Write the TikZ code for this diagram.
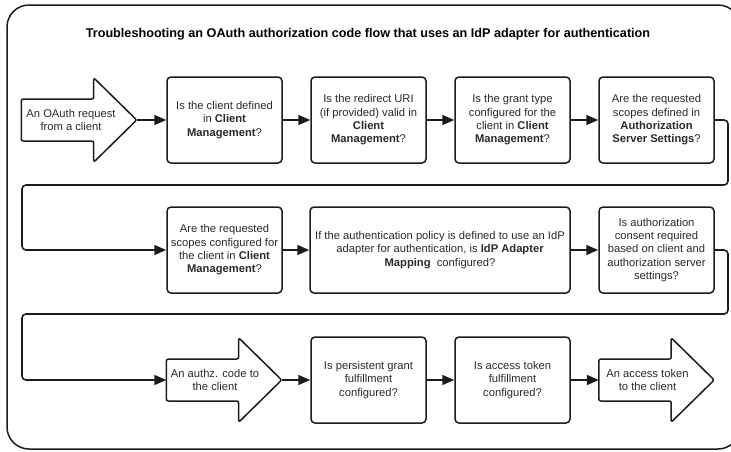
\documentclass[tikz,border=0pt]{standalone}
\usepackage{fontspec}
\setmainfont{Liberation Sans}
\usetikzlibrary{arrows.meta,calc}
\definecolor{linec}{HTML}{1C1C1C}
\definecolor{txtc}{HTML}{2A2A2A}
\begin{document}
\begin{tikzpicture}[x=1pt,y=-1pt,
  box/.style={draw=linec, line width=1.5pt, rounded corners=4pt, minimum width=115pt, minimum height=86pt,
    align=center, text=txtc, inner sep=2pt, font=\fontsize{11.2}{13.3}\selectfont},
  widebox/.style={box, minimum width=260pt},
  arrowarea/.style={minimum width=115pt, minimum height=84pt, inner sep=0pt},
  arrowtext/.style={align=center, text=txtc, inner sep=0pt, font=\fontsize{11.2}{12.5}\selectfont},
  arrowshape/.style={draw=linec, line width=1.5pt, rounded corners=2pt, line join=round},
  conn/.style={draw=linec, line width=1.6pt, rounded corners=4pt, -{Triangle[length=12pt,width=10pt]}},
  frame/.style={draw=linec, line width=1.5pt, rounded corners=22pt}
]
\useasboundingbox (0,0) rectangle (731,451);
\fill[white] (0,0) rectangle (731,451);
\draw[frame] (7,5) rectangle (740,449);

\node[text=black, font=\bfseries\fontsize{12.65}{15}\selectfont] (title) at (368,34)
  {Troubleshooting an OAuth authorization code flow that uses an IdP adapter for authentication};

\node[arrowarea] (a1) at (79,120) {};
\node[arrowarea] (a2) at (224,380) {};
\node[arrowarea] (a3) at (656.5,380) {};
\foreach \n in {a1,a2,a3} {
  \draw[arrowshape] ($(\n.west)+(0,-21)$) -- ($(\n.west)+(0,21)$) -- ($(\n.east)+(-43,21)$)
    -- ($(\n.south east)+(-43,0)$) -- (\n.east) -- ($(\n.north east)+(-43,0)$)
    -- ($(\n.east)+(-43,-21)$) -- cycle;
}
\node[arrowtext] (t1) at ($(a1.center)+(-8,0)$) {An OAuth request\\from a client};
\node[arrowtext] (t2) at ($(a2.center)+(-9,0)$) {An authz. code to\\the client};
\node[arrowtext] (t3) at ($(a3.center)+(-9,0)$) {An access token\\to the client};

% row 1
\node[box] (b1) at (224.5,120) {Is the client defined\\in \textbf{Client}\\\textbf{Management}?};
\node[box] (b2) at (368.5,120) {Is the redirect URI\\(if provided) valid in\\\textbf{Client}\\\textbf{Management}?};
\node[box] (b3) at (512.5,120) {Is the grant type\\configured for the\\client in \textbf{Client}\\\textbf{Management}?};
\node[box] (b4) at (656.5,120) {Are the requested\\scopes defined in\\\textbf{Authorization}\\\textbf{Server Settings}?};

% row 2
\node[box] (b5) at (224.5,250) {Are the requested\\scopes configured for\\the client in \textbf{Client}\\\textbf{Management}?};
\node[widebox] (b6) at (440,250) {If the authentication policy is defined to use an IdP\\adapter for authentication, is \textbf{IdP Adapter}\\\textbf{Mapping}\ \ configured?};
\node[box] (b7) at (656.5,250) {Is authorization\\consent required\\based on client and\\authorization server\\settings?};

% row 3
\node[box] (b8) at (368.5,380) {Is persistent grant\\fulfillment\\configured?};
\node[box] (b9) at (512.5,380) {Is access token\\fulfillment\\configured?};

% connectors
\draw[conn] (a1.east) -- (b1.west);
\draw[conn] (b1.east) -- (b2.west);
\draw[conn] (b2.east) -- (b3.west);
\draw[conn] (b3.east) -- (b4.west);
\draw[conn] (b4.east) -- (728,120) -- (728,185) -- (22,185) -- (22,250) -- (b5.west);
\draw[conn] (b5.east) -- (b6.west);
\draw[conn] (b6.east) -- (b7.west);
\draw[conn] (b7.east) -- (728,250) -- (728,314) -- (22,314) -- (22,380) -- (a2.west);
\draw[conn] (a2.east) -- (b8.west);
\draw[conn] (b8.east) -- (b9.west);
\draw[conn] (b9.east) -- (a3.west);
\end{tikzpicture}
\end{document}
